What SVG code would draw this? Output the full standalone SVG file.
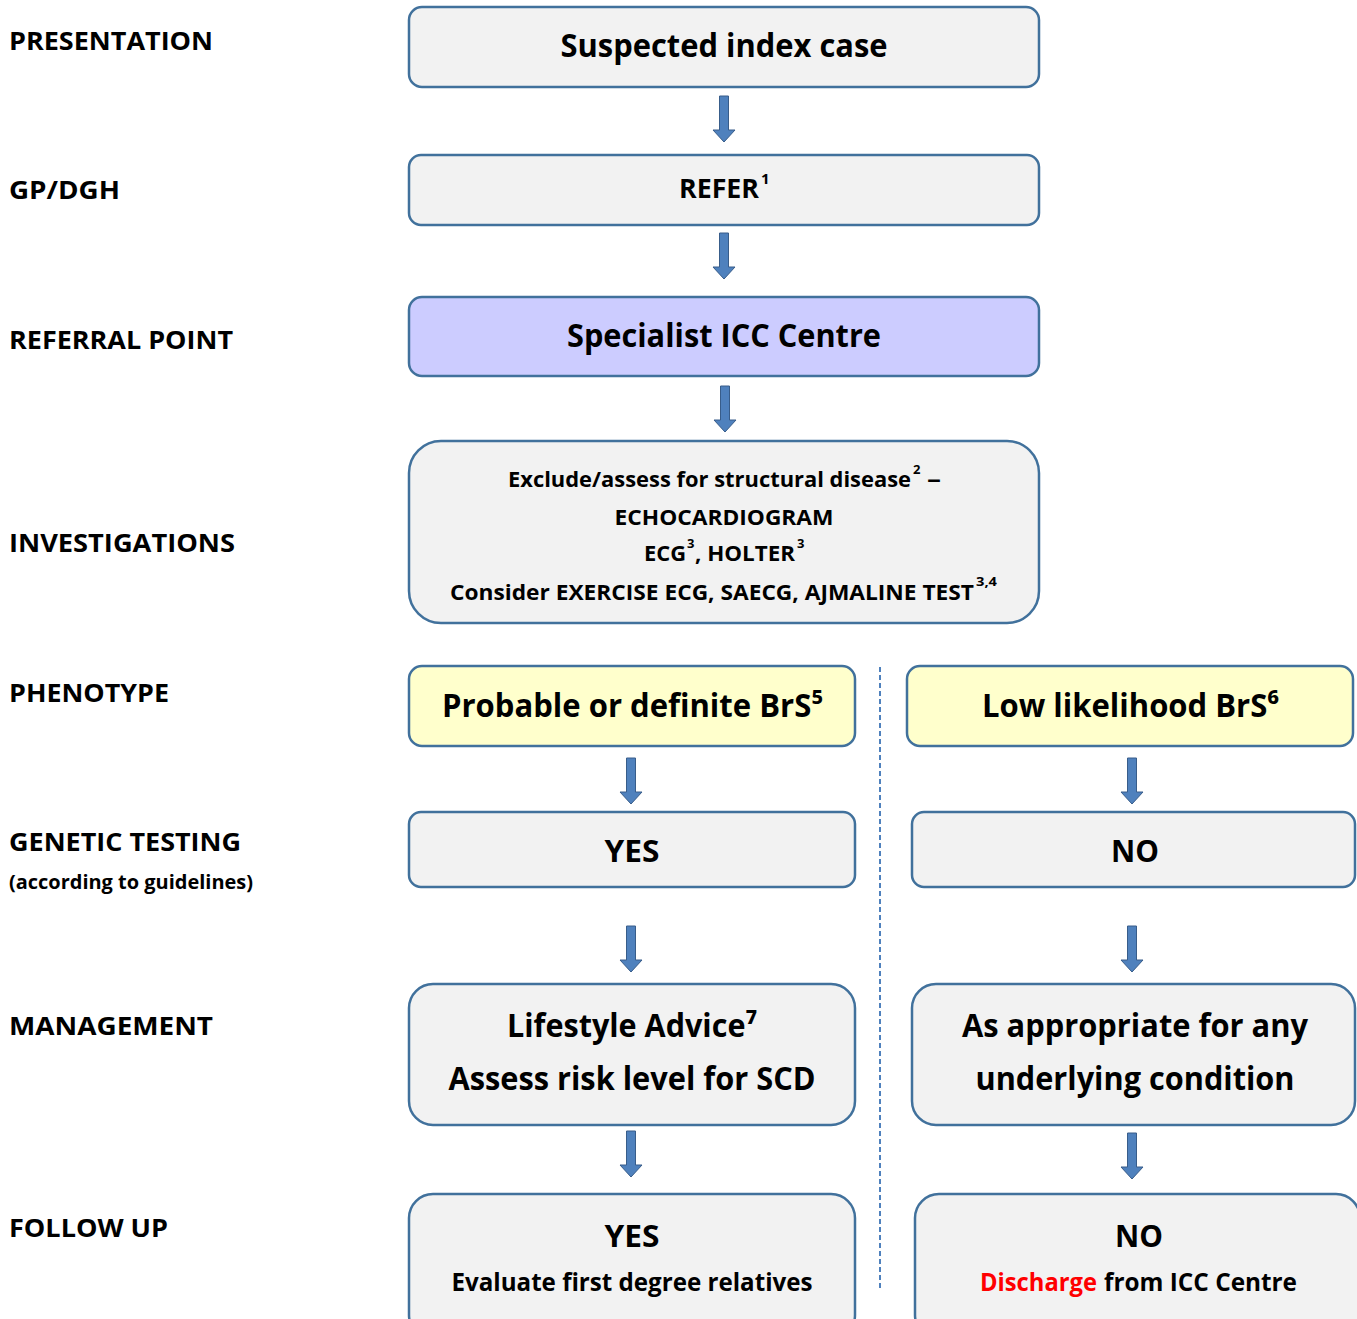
<svg xmlns="http://www.w3.org/2000/svg" xmlns:xlink="http://www.w3.org/1999/xlink" width="1357" height="1319" viewBox="0 0 1357 1319">
<defs>
<style>
text{font-family:"Open Sans",Lato,"Liberation Sans",sans-serif;font-weight:bold;fill:#000;}
.lbl{font-size:24.5px;}
.box{fill:#f2f2f2;stroke:#41719c;stroke-width:2.5;}
.blue{fill:#ccccff;}
.yel{fill:#ffffcc;}
.arr{fill:#4f81bd;stroke:#385d8a;stroke-width:1;}
.c{text-anchor:middle;}
.red{fill:#ff0000;}
</style>
<path id="arr" class="arr" d="M-4.5,0 H4.5 V34 H11 L0,46 L-11,34 H-4.5 Z"/>
</defs>
<rect width="1357" height="1319" fill="#ffffff"/>

<g id="labels">
<text class="lbl" x="9" y="50" textLength="204" lengthAdjust="spacingAndGlyphs">PRESENTATION</text>
<text class="lbl" x="9" y="199" textLength="111" lengthAdjust="spacingAndGlyphs">GP/DGH</text>
<text class="lbl" x="9" y="349" textLength="224" lengthAdjust="spacingAndGlyphs">REFERRAL POINT</text>
<text class="lbl" x="9" y="552" textLength="226" lengthAdjust="spacingAndGlyphs">INVESTIGATIONS</text>
<text class="lbl" x="9" y="702" textLength="160" lengthAdjust="spacingAndGlyphs">PHENOTYPE</text>
<text class="lbl" x="9" y="851" textLength="232" lengthAdjust="spacingAndGlyphs">GENETIC TESTING</text>
<text x="9" y="889" font-size="20" textLength="244" lengthAdjust="spacingAndGlyphs">(according to guidelines)</text>
<text class="lbl" x="9" y="1035" textLength="204" lengthAdjust="spacingAndGlyphs">MANAGEMENT</text>
<text class="lbl" x="9" y="1237" textLength="159" lengthAdjust="spacingAndGlyphs">FOLLOW UP</text>
</g>

<g id="connectors">
<use xlink:href="#arr" x="724" y="96"/>
<use xlink:href="#arr" x="724" y="233"/>
<use xlink:href="#arr" x="725" y="386"/>
<use xlink:href="#arr" x="631" y="758"/>
<use xlink:href="#arr" x="1132" y="758"/>
<use xlink:href="#arr" x="631" y="926"/>
<use xlink:href="#arr" x="1132" y="926"/>
<use xlink:href="#arr" x="631" y="1131"/>
<use xlink:href="#arr" x="1132" y="1133"/>
<line x1="880" y1="667" x2="880" y2="1288" stroke="#4f81bd" stroke-width="2" stroke-dasharray="5,3"/>
</g>

<g id="n-suspected">
<rect class="box" x="409" y="7" width="630" height="80" rx="13"/>
<text class="c" x="724" y="57" font-size="32" textLength="327" lengthAdjust="spacingAndGlyphs">Suspected index case</text>
</g>

<g id="n-refer">
<rect class="box" x="409" y="155" width="630" height="70" rx="12"/>
<text x="679" y="198" font-size="26" textLength="80" lengthAdjust="spacingAndGlyphs">REFER</text>
<text x="761" y="184" font-size="15">1</text>
</g>

<g id="n-specialist">
<rect class="box blue" x="409" y="297" width="630" height="79" rx="13"/>
<text class="c" x="724" y="347" font-size="32" textLength="314" lengthAdjust="spacingAndGlyphs">Specialist ICC Centre</text>
</g>

<g id="n-investigations">
<rect class="box" x="409" y="441" width="630" height="182" rx="32"/>
<text x="508" y="487" font-size="20.5" textLength="403" lengthAdjust="spacingAndGlyphs">Exclude/assess for structural disease</text>
<text x="913" y="474" font-size="13">2</text>
<text x="927" y="487" font-size="20.5" textLength="14" lengthAdjust="spacingAndGlyphs">–</text>
<text class="c" x="724" y="525" font-size="20.5" textLength="219" lengthAdjust="spacingAndGlyphs">ECHOCARDIOGRAM</text>
<text x="644" y="561" font-size="20.5" textLength="42" lengthAdjust="spacingAndGlyphs">ECG</text>
<text x="687" y="548" font-size="13">3</text>
<text x="695" y="561" font-size="20.5" textLength="100" lengthAdjust="spacingAndGlyphs">, HOLTER</text>
<text x="797" y="548" font-size="13">3</text>
<text x="450" y="600" font-size="20.5" textLength="524" lengthAdjust="spacingAndGlyphs">Consider EXERCISE ECG, SAECG, AJMALINE TEST</text>
<text x="976" y="586" font-size="13" textLength="21" lengthAdjust="spacingAndGlyphs">3,4</text>
</g>

<g id="n-probable">
<rect class="box yel" x="409" y="666" width="446" height="80" rx="13"/>
<text x="442" y="717" font-size="32" textLength="381" lengthAdjust="spacingAndGlyphs">Probable or definite BrS⁵</text>
</g>

<g id="n-low">
<rect class="box yel" x="907" y="666" width="446" height="80" rx="13"/>
<text x="982" y="717" font-size="32" textLength="297" lengthAdjust="spacingAndGlyphs">Low likelihood BrS⁶</text>
</g>

<g id="n-gen-yes">
<rect class="box" x="409" y="812" width="446" height="75" rx="12"/>
<text class="c" x="632" y="862" font-size="31" textLength="55" lengthAdjust="spacingAndGlyphs">YES</text>
</g>

<g id="n-gen-no">
<rect class="box" x="912" y="812" width="443" height="75" rx="12"/>
<text class="c" x="1135" y="862" font-size="31" textLength="48" lengthAdjust="spacingAndGlyphs">NO</text>
</g>

<g id="n-mgmt-yes">
<rect class="box" x="409" y="984" width="446" height="141" rx="24"/>
<text x="507" y="1037" font-size="32" textLength="250" lengthAdjust="spacingAndGlyphs">Lifestyle Advice⁷</text>
<text class="c" x="632" y="1090" font-size="32" textLength="367" lengthAdjust="spacingAndGlyphs">Assess risk level for SCD</text>
</g>

<g id="n-mgmt-no">
<rect class="box" x="912" y="984" width="443" height="141" rx="24"/>
<text class="c" x="1135" y="1037" font-size="32" textLength="346" lengthAdjust="spacingAndGlyphs">As appropriate for any</text>
<text class="c" x="1135" y="1090" font-size="32" textLength="319" lengthAdjust="spacingAndGlyphs">underlying condition</text>
</g>

<g id="n-fu-yes">
<rect class="box" x="409" y="1194" width="446" height="145" rx="24"/>
<text class="c" x="632" y="1247" font-size="31" textLength="55" lengthAdjust="spacingAndGlyphs">YES</text>
<text class="c" x="632" y="1291" font-size="24.5" textLength="361" lengthAdjust="spacingAndGlyphs">Evaluate first degree relatives</text>
</g>

<g id="n-fu-no">
<rect class="box" x="915" y="1194" width="445" height="145" rx="24"/>
<text class="c" x="1139" y="1247" font-size="31" textLength="48" lengthAdjust="spacingAndGlyphs">NO</text>
<text x="980" y="1291" font-size="24.5" class="red" textLength="117" lengthAdjust="spacingAndGlyphs">Discharge</text>
<text x="1104" y="1291" font-size="24.5" textLength="193" lengthAdjust="spacingAndGlyphs">from ICC Centre</text>
</g>
</svg>
